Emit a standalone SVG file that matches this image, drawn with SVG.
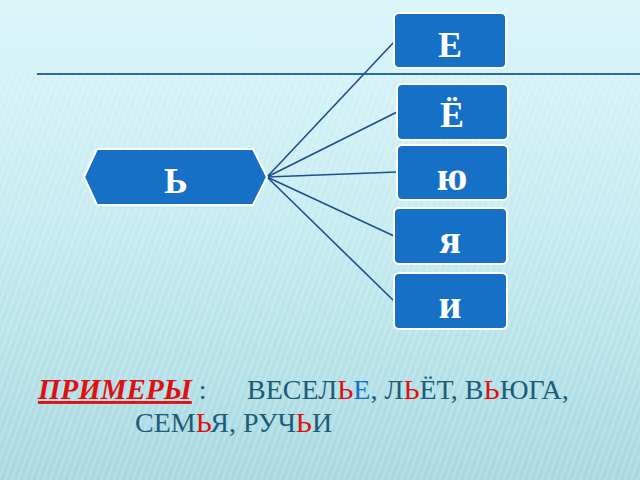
<svg xmlns="http://www.w3.org/2000/svg" width="640" height="480" viewBox="0 0 640 480">
<defs>
<linearGradient id="bg" x1="0" y1="0" x2="0" y2="1">
<stop offset="0" stop-color="#dcf6fa"/>
<stop offset="0.5" stop-color="#c4eaf0"/>
<stop offset="1" stop-color="#a8d8e0"/>
</linearGradient>
<pattern id="stripes" width="6" height="6" patternUnits="userSpaceOnUse" patternTransform="rotate(20)">
<rect width="2" height="6" fill="#ffffff" opacity="0.18"/>
</pattern>
<style>
.box{fill:#1670c6;stroke:#ffffff;stroke-width:2}
.lbl{fill:#ffffff;font-family:"Liberation Serif",serif;font-weight:bold;font-size:36px;text-anchor:middle}
.lc{font-size:40px}
.con{stroke:#1d4f8c;stroke-width:1.6;fill:none}
.ex{font-family:"Liberation Serif",serif;font-size:28px;fill:#1b5c78}
.r{fill:#e01010}
.b{fill:#1670c6}
</style>
</defs>
<rect width="640" height="480" fill="url(#bg)"/>
<rect y="70" width="640" height="410" fill="url(#stripes)"/>
<line x1="37" y1="74" x2="640" y2="74" stroke="#2a6aa0" stroke-width="2"/>
<g id="connectors">
<line class="con" x1="267" y1="177" x2="394" y2="42"/>
<line class="con" x1="267" y1="177" x2="397" y2="112"/>
<line class="con" x1="267" y1="177" x2="397" y2="172"/>
<line class="con" x1="267" y1="177" x2="394" y2="236"/>
<line class="con" x1="267" y1="177" x2="394" y2="301"/>
</g>
<g id="node-soft">
<polygon class="box" points="84,177 97,149 253,149 267,177 253,205 97,205"/>
<text class="lbl" x="176" y="193" font-size="30">Ь</text>
</g>
<g id="node-e">
<rect class="box" x="394" y="13" width="112" height="55" rx="5"/>
<text class="lbl" x="450" y="57">Е</text>
</g>
<g id="node-yo">
<rect class="box" x="397" y="84" width="111" height="56" rx="5"/>
<text class="lbl" x="452" y="127">Ё</text>
</g>
<g id="node-yu">
<rect class="box" x="397" y="145" width="111" height="55" rx="5"/>
<text class="lbl lc" x="452" y="190">ю</text>
</g>
<g id="node-ya">
<rect class="box" x="394" y="208" width="113" height="56" rx="5"/>
<text class="lbl lc" x="450" y="253">я</text>
</g>
<g id="node-i">
<rect class="box" x="394" y="273" width="113" height="56" rx="5"/>
<text class="lbl lc" x="450" y="318">и</text>
</g>
<text class="ex" x="38" y="399"><tspan class="r" font-weight="bold" font-style="italic" text-decoration="underline" font-size="29">ПРИМЕРЫ</tspan> :<tspan x="247">ВЕСЕЛ</tspan><tspan class="r">Ь</tspan><tspan class="b">Е</tspan>, Л<tspan class="r">Ь</tspan>ЁТ, В<tspan class="r">Ь</tspan>ЮГА,</text>
<text class="ex" x="135" y="432">СЕМ<tspan class="r">Ь</tspan>Я, РУЧ<tspan class="r">Ь</tspan>И</text>
</svg>
